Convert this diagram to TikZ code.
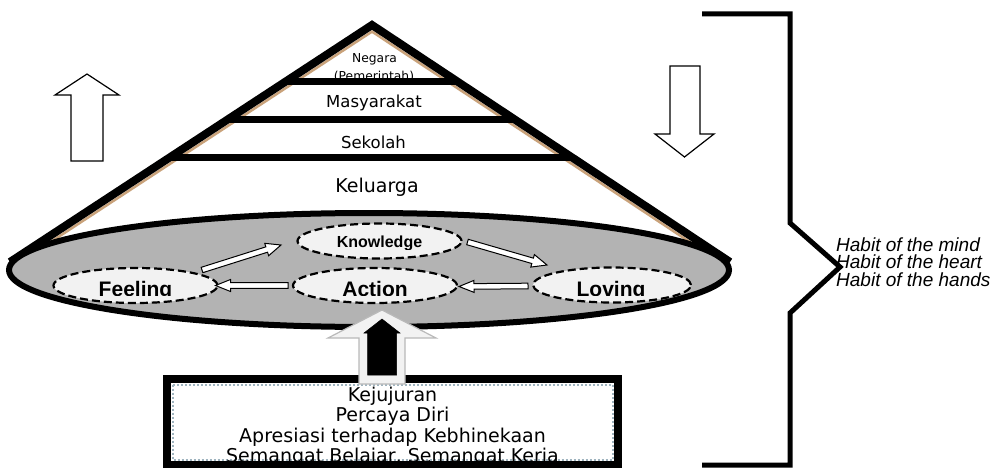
\documentclass[tikz,border=0pt]{standalone}
\usepackage{fontspec}
\setmainfont{DejaVu Sans}
\newfontfamily\arialf{Liberation Sans}
\usetikzlibrary{calc,shapes.geometric}
\definecolor{basegray}{HTML}{B3B3B3}
\definecolor{innerfill}{HTML}{F2F2F2}
\definecolor{tanline}{HTML}{C9A27A}
\definecolor{dotblue}{HTML}{9FB4BF}
\newcommand\blockarrow[6][]{%
  \draw[#1] let \p1=#2, \p2=#3, \n1={atan2(\y2-\y1,\x2-\x1)} in
    ($(\p1)+({\n1+90}:#4)$) --
    ($(\p2)+({\n1+180}:#6)+({\n1+90}:#4)$) --
    ($(\p2)+({\n1+180}:#6)+({\n1+90}:#5)$) --
    (\p2) --
    ($(\p2)+({\n1+180}:#6)+({\n1-90}:#5)$) --
    ($(\p2)+({\n1+180}:#6)+({\n1-90}:#4)$) --
    ($(\p1)+({\n1-90}:#4)$) -- cycle;}
\begin{document}
\begin{tikzpicture}[x=1pt,y=-1pt,
  innerell/.style={ellipse, draw, fill=innerfill, line width=2.2pt,
    dash pattern=on 8pt off 4pt, inner sep=0pt, minimum width=164pt, minimum height=35pt},
  lbl/.style={anchor=base, font=\arialf\bfseries\fontsize{21}{24}\selectfont},
  pyr/.style={anchor=base},
  boxtxt/.style={anchor=base, font=\fontsize{19}{21}\selectfont},
  habit/.style={anchor=base west, inner sep=0pt, font=\arialf\itshape\fontsize{19}{20}\selectfont},
  smallarr/.style={fill=white, draw=black, line width=1pt, line join=miter},
  hollowarr/.style={fill=white, draw=black, line width=1.2pt, line join=miter},
  divider/.style={line width=7pt},
]
\useasboundingbox (0,0) rectangle (998,468);

% cone
\coordinate (A) at (372,25);
\coordinate (L) at (10,262);
\coordinate (R) at (730,262);
\fill[white] (A) -- (L) -- (R) -- cycle;

\node[pyr, font=\fontsize{12.3}{14}\selectfont] (neg) at (374.5,63) {Negara};
\node[pyr, font=\fontsize{12.3}{14}\selectfont] (pem) at (374,81) {(Pemerintah)};
\node[pyr, font=\fontsize{16.5}{20}\selectfont] (mas) at (374,108) {Masyarakat};
\node[pyr, font=\fontsize{16.5}{20}\selectfont] (sek) at (373.5,149) {Sekolah};
\node[pyr, font=\fontsize{19}{22}\selectfont] (kel) at (377,192) {Keluarga};

\draw[tanline, line width=2.5pt] ($(L)+(0,6.6)$) -- ($(A)+(0,6.6)$) -- ($(R)+(0,6.6)$);
\draw[divider] ($(A)!0.2395!(L)$) -- ($(A)!0.2395!(R)$);
\draw[divider] ($(A)!0.399!(L)$) -- ($(A)!0.399!(R)$);
\draw[divider] ($(A)!0.561!(L)$) -- ($(A)!0.561!(R)$);
\draw[line width=8pt, line join=miter] (L) -- (A) -- (R);

% base ellipse
\node[ellipse, draw, line width=6pt, fill=basegray, inner sep=0pt,
  minimum width=720pt, minimum height=114pt] (base) at (369,270) {};

\node[innerell] (know) at (379.5,241) {};
\node[innerell] (feel) at (135.5,285.5) {};
\node[innerell] (act) at (375,285.5) {};
\node[innerell, minimum width=158pt] (lov) at (612,285) {};

\begin{scope}
\clip (290,225) rectangle (470,249);
\node[anchor=base, font=\arialf\bfseries\fontsize{16}{18}\selectfont] (knowt) at (379.5,247) {Knowledge};
\end{scope}
\begin{scope}
\clip (50,270) rectangle (700,295.5);
\node[lbl] (feelt) at (135.5,296) {Feeling};
\node[lbl] (actt) at (375,296) {Action};
\node[lbl] (lovt) at (611,296) {Loving};
\end{scope}

\coordinate (fk1) at ($(feel)+(66.5,-15.5)$);
\coordinate (fk2) at ($(know)+(-98.5,4)$);
\coordinate (kl1) at ($(know)+(88,1)$);
\coordinate (kl2) at ($(lov)+(-65,-20)$);
\coordinate (af1) at ($(act)+(-87,0)$);
\coordinate (af2) at ($(feel)+(80,0)$);
\coordinate (la1) at ($(lov)+(-84,1)$);
\coordinate (la2) at ($(act)+(84,1)$);
\blockarrow[smallarr]{(fk1)}{(fk2)}{2.8pt}{6.5pt}{15pt}
\blockarrow[smallarr]{(kl1)}{(kl2)}{2.8pt}{6.5pt}{15pt}
\blockarrow[smallarr]{(af1)}{(af2)}{2.8pt}{6pt}{15pt}
\blockarrow[smallarr]{(la1)}{(la2)}{2.8pt}{6pt}{15pt}

% bottom box
\node[fill=white, inner sep=0pt, outer sep=0pt, minimum width=451pt, minimum height=86pt] (box) at (392.5,422) {};
\draw[dotblue, line width=2pt, dotted] ($(box.north west)+(5.5,5.5)$) rectangle ($(box.south east)+(-5.5,-5.5)$);
\node[boxtxt] (t1) at (392.5,401) {Kejujuran};
\node[boxtxt] (t2) at (392.5,421.5) {Percaya Diri};
\node[boxtxt] (t3) at (392.5,442) {Apresiasi terhadap Kebhinekaan};
\node[boxtxt] (t4) at (392.5,462.5) {Semangat Belajar, Semangat Kerja};
\draw[line width=8pt] (box.north west) rectangle (box.south east);

% upward arrow from box to Action
\coordinate (upbase) at (382,384);
\coordinate (uptip) at (382,310);
\coordinate (upbase2) at (382,375);
\coordinate (uptip2) at (382,319);
\blockarrow[fill=innerfill, draw=gray!55, line width=1.2pt]{(upbase)}{(uptip)}{23pt}{54pt}{28pt}
\blockarrow[fill=black, draw=black, line width=0.5pt]{(upbase2)}{(uptip2)}{14.5pt}{18pt}{14pt}

% side arrows
\draw[hollowarr] (71,161) -- (71,95) -- (55,95) -- (87,74) -- (119,95) -- (103,95) -- (103,161) -- cycle;
\draw[hollowarr] (670,66) -- (700,66) -- (700,134) -- (714,134) -- (684.5,157) -- (655,134) -- (670,134) -- cycle;

% bracket
\draw[line width=5pt, line join=miter] (702,14) -- (790,14) -- (790,223) -- (840,267) -- (790,313) -- (790,465) -- (702,465);
\node[habit] (h1) at (836,251) {Habit of the mind};
\node[habit] (h2) at (836,268.5) {Habit of the heart};
\node[habit] (h3) at (836,286) {Habit of the hands};
\end{tikzpicture}
\end{document}
